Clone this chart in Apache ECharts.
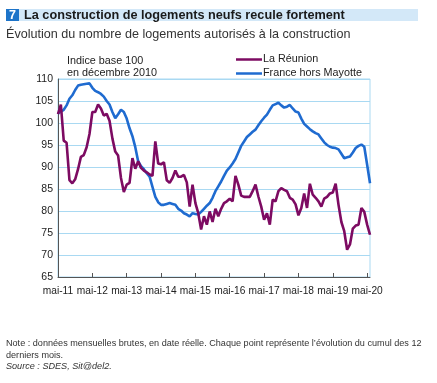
<!DOCTYPE html>
<html>
<head>
<meta charset="utf-8">
<script src="https://cdn.jsdelivr.net/npm/echarts@6/dist/echarts.min.js"></script>
<style>
html,body{margin:0;padding:0;background:#fff;}
#chart{width:437px;height:383px;}
</style>
</head>
<body>
<div id="chart"></div>
<script>
// Month names (French abbreviations) and years used for the category axis
const monthNames = ['mai','juin','juil','août','sept','oct','nov','déc','janv','févr','mars','avr'];
const startYear = 11; // mai-11
const nMonths = 110;  // mai-11 .. juin-20

// La Réunion (index base 100 in Dec 2010)
const reunion = [
  102.0,104.2,96.0,95.5,87.0,86.3,87.2,89.5,92.3,92.7,94.5,97.5,
  102.5,102.5,104.2,103.3,101.7,102.1,100.5,96.5,93.5,92.6,87.5,84.3,
  86.0,86.4,92.0,89.6,91.3,89.8,89.2,88.8,88.3,88.0,95.8,90.8,
  90.6,91.1,87.0,86.4,87.5,89.2,87.8,87.8,88.2,86.5,81.0,86.0,
  81.8,79.5,75.8,78.8,76.9,79.9,77.5,80.5,78.8,80.5,81.8,82.2,
  82.8,82.2,88.0,86.0,83.5,83.2,83.2,83.2,84.5,86.0,83.3,81.0,
  78.0,79.5,76.9,82.6,82.2,84.5,85.2,84.8,84.5,83.0,82.6,81.5,
  79.0,80.7,84.0,80.7,86.2,83.7,83.0,82.2,81.0,82.8,83.2,84.0,
  84.2,86.2,81.4,77.5,75.4,71.2,72.4,76.0,76.7,76.9,80.7,79.8,
  76.9,74.6
];

// France hors Mayotte
const france = [
  102.2,102.6,103.0,104.0,105.5,106.3,107.5,108.5,108.7,108.8,108.9,109.0,
  108.0,107.3,107.0,106.6,106.0,105.0,104.2,102.5,101.1,102.0,103.0,102.5,
  101.0,98.8,97.0,94.5,91.3,90.2,89.5,88.6,87.8,85.5,83.2,82.0,
  81.4,81.4,81.6,81.8,81.6,81.4,80.5,80.1,79.5,79.2,78.8,79.5,
  79.3,79.2,79.8,80.5,81.2,81.8,83.0,84.5,85.6,86.7,88.0,89.2,
  89.9,90.8,91.8,93.3,94.8,95.8,96.8,97.4,98.0,98.5,99.5,100.4,
  101.2,101.9,103.0,104.0,104.3,104.6,104.0,103.5,103.7,104.1,103.3,102.6,
  102.4,101.0,99.8,99.2,98.6,98.1,97.7,97.4,96.5,95.6,95.0,94.6,
  94.4,94.3,94.0,93.0,92.0,92.2,92.4,93.3,94.3,94.8,95.1,94.6,
  90.5,86.3
];

const seriesNames = ['La Réunion','France hors Mayotte'];
const seriesColors = ['#7d0b62','#1f6bd0'];

const categories = [];
for (let i = 0; i < nMonths; i++) {
  const y = startYear + Math.floor(i / 12);
  categories.push(monthNames[i % 12] + '-' + String(y).padStart(2,'0'));
}

const chart = echarts.init(document.getElementById('chart'), null, {renderer:'canvas'});
const font = 'Liberation Sans, Arial, sans-serif';

chart.setOption({
  backgroundColor:'#ffffff',
  animation:false,
  textStyle:{fontFamily:font},
  grid:{left:58,right:67,top:79,bottom:106,show:true,borderColor:'#a9d9f2',borderWidth:1,backgroundColor:'transparent'},
  legend:{
    orient:'vertical',left:231,top:49,itemWidth:26,itemHeight:10,itemGap:3,
    icon:'path://M0,4 L26,4 L26,6.5 L0,6.5 Z',
    textStyle:{fontSize:10.8,color:'#222',fontFamily:font,padding:[0,0,0,-4]},
    data:seriesNames
  },
  xAxis:{
    type:'category',data:categories,boundaryGap:false,
    axisLine:{lineStyle:{color:'#555',width:1}},
    axisTick:{inside:true,length:4,lineStyle:{color:'#555'},interval:function(i){return i%12===0;}},
    axisLabel:{interval:function(i){return i%12===0;},fontSize:10.2,color:'#222',margin:9,fontFamily:font},
    splitLine:{show:false}
  },
  yAxis:{
    type:'value',min:65,max:110,interval:5,
    axisLine:{show:true,lineStyle:{color:'#555',width:1}},
    axisTick:{show:false},
    axisLabel:{fontSize:10.5,color:'#222',margin:5,fontFamily:font},
    splitLine:{lineStyle:{color:'#a9d9f2',width:1}}
  },
  graphic:[
    {type:'rect',left:6,top:9,shape:{width:412,height:12},style:{fill:'#d3e8f8'},z:0},
    {type:'rect',left:6,top:9,shape:{width:13,height:12},style:{fill:'#1d74c9'},z:1},
    {type:'text',x:9,y:15.5,style:{text:'7',fill:'#fff',font:'bold 12.5px '+font,verticalAlign:'middle'},z:2},
    {type:'text',x:24,y:15.5,style:{text:'La construction de logements neufs recule fortement',fill:'#1a1a1a',font:'bold 12.7px '+font,verticalAlign:'middle'},z:2},
    {type:'text',x:6,y:35,style:{text:'Évolution du nombre de logements autorisés à la construction',fill:'#333',font:'12.6px '+font,verticalAlign:'middle'}},
    {type:'text',left:67,top:55,style:{text:'Indice base 100\nen décembre 2010',fill:'#222',font:'10.8px '+font,lineHeight:12}},
    {type:'text',left:6,top:337,style:{text:'Note : données mensuelles brutes, en date réelle. Chaque point représente l\u2019évolution du cumul des 12\nderniers mois.',fill:'#333',font:'9.1px '+font,lineHeight:12}},
    {type:'text',left:6,top:362,style:{text:'Source : SDES, Sit@del2.',fill:'#333',font:'italic 9.1px '+font}}
  ],
  series:[
    {name:seriesNames[0],type:'line',data:reunion,showSymbol:false,lineStyle:{width:2.6,color:seriesColors[0]},itemStyle:{color:seriesColors[0]},z:3},
    {name:seriesNames[1],type:'line',data:france,showSymbol:false,lineStyle:{width:2.6,color:seriesColors[1]},itemStyle:{color:seriesColors[1]},z:2}
  ]
});
</script>
</body>
</html>
